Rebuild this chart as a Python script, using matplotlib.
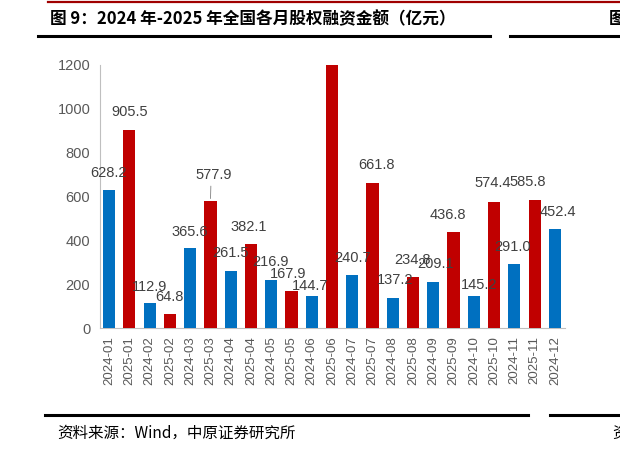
import matplotlib
matplotlib.use("Agg")
import matplotlib.pyplot as plt
from matplotlib.lines import Line2D

plt.rcParams['font.family'] = ['Liberation Sans', 'Noto Sans CJK SC', 'DejaVu Sans']

categories = ["2024-01", "2025-01", "2024-02", "2025-02", "2024-03", "2025-03",
              "2024-04", "2025-04", "2024-05", "2025-05", "2024-06", "2025-06",
              "2024-07", "2025-07", "2024-08", "2025-08", "2024-09", "2025-09",
              "2024-10", "2025-10", "2024-11", "2025-11", "2024-12"]
values = [628.2, 905.5, 112.9, 64.8, 365.6, 577.9, 261.5, 382.1, 216.9, 167.9,
          144.7, 1200.0, 240.7, 661.8, 137.2, 234.8, 209.1, 436.8, 145.2, 574.4,
          291.0, 585.8, 452.4]
labels = ["628.2", "905.5", "112.9", "64.8", "365.6", "577.9", "261.5", "382.1",
          "216.9", "167.9", "144.7", "", "240.7", "661.8", "137.2", "234.8",
          "209.1", "436.8", "145.2", "574.4", "291.0", "585.8", "452.4"]
yticks = [0, 200, 400, 600, 800, 1000, 1200]
title = "图 9：2024 年-2025 年全国各月股权融资金额（亿元）"
source = "资料来源：Wind，中原证券研究所"

BLUE = "#0070C0"
RED = "#C00000"
colors = [BLUE if c.startswith("2024") else RED for c in categories]

# label offsets in pixels (dx, dy above bar top)
label_dx = [-1, 0, 0, 0, 0, 3, 0, -2, -1, -3, -2, 0, 0, 4, 2, -1, 2, -6, 5, -1, -2, -7, 3]
label_dy = [17, 18, 16, 17, 16, 26, 18, 17, 18, 17, 10, 0, 17, 18, 18, 17, 18, 17, 11, 19, 17, 18, 17]

W, H = 620, 455
fig = plt.figure(figsize=(W / 100, H / 100), dpi=100)

def fx(px):
    return px / W

def fy(py):
    return 1 - py / H

ax = fig.add_axes([fx(100), fy(328), fx(565) - fx(100), fy(65) - fy(328)])
x = list(range(len(categories)))
ax.bar(x, values, width=0.6, color=colors, zorder=3)
ax.set_ylim(0, 1200)
ax.set_xlim(-0.45, len(categories) - 0.5)
ax.set_yticks(yticks)
ax.set_yticklabels([str(v) for v in yticks])
ax.set_xticks(x)
ax.set_xticklabels(categories, rotation=90)
ax.tick_params(axis='y', length=0, pad=7, labelsize=10.5, labelcolor="#595959")
ax.tick_params(axis='x', length=0, pad=6, labelsize=9.5, labelcolor="#595959")
for s in ["top", "right"]:
    ax.spines[s].set_visible(False)
ax.spines["left"].set_color("#BFBFBF")
ax.spines["bottom"].set_color("#BFBFBF")

for i, (v, lab) in enumerate(zip(values, labels)):
    if not lab:
        continue
    ax.annotate(lab, (i, v), xytext=(label_dx[i] * 0.72, label_dy[i] * 0.72),
                textcoords="offset points", ha="center", va="center",
                fontsize=10.5, color="#404040", zorder=4)

# leader line for 577.9
ax.annotate("", (5, values[5]), xytext=(0.5 * 0.72, 18 * 0.72), textcoords="offset points",
            arrowprops=dict(arrowstyle="-", color="#808080", lw=0.6))

# decorations
fig.add_artist(Line2D([fx(48), 1], [fy(2), fy(2)], color="#A00000", lw=1.6))
fig.add_artist(Line2D([fx(38), fx(490)], [fy(36), fy(36)], color="black", lw=2.2))
fig.add_artist(Line2D([fx(510), 1], [fy(36), fy(36)], color="black", lw=2.2))
fig.add_artist(Line2D([fx(45), fx(528)], [fy(415), fy(415)], color="black", lw=2.2))
fig.add_artist(Line2D([fx(550), 1], [fy(415), fy(415)], color="black", lw=2.2))

fig.text(fx(50), fy(19), title, fontsize=12, fontweight="bold", ha="left", va="center",
         family=['Noto Sans CJK SC', 'DejaVu Sans'], color="black")
fig.text(fx(609), fy(19), "图", fontsize=12, fontweight="bold", ha="left", va="center",
         family=['Noto Sans CJK SC'], color="black")
fig.text(fx(57), fy(433), source, fontsize=11.2, ha="left", va="center",
         family=['Noto Sans CJK SC', 'DejaVu Sans'], color="black")
fig.text(fx(612), fy(433), "资", fontsize=11.2, ha="left", va="center",
         family=['Noto Sans CJK SC'], color="black")

fig.savefig("out.png", dpi=100)
